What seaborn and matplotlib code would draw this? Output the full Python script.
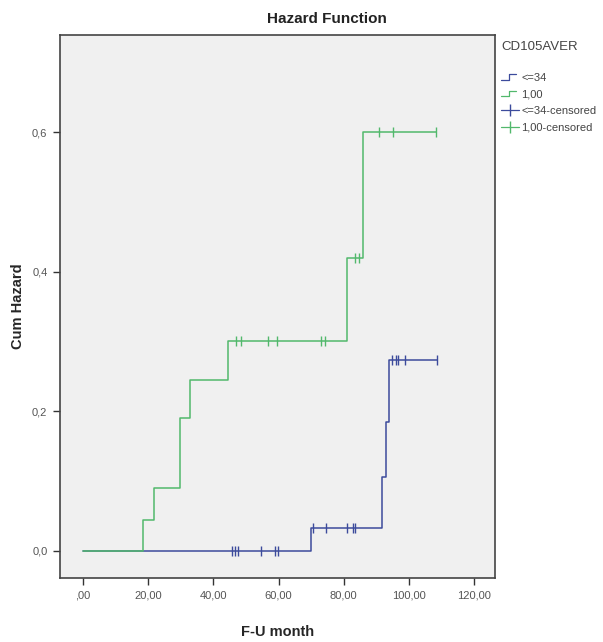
import numpy as np
import pandas as pd
import matplotlib
matplotlib.use("Agg")
import matplotlib.pyplot as plt
from matplotlib.legend_handler import HandlerBase
from matplotlib.lines import Line2D
import seaborn as sns

# ---- data ----
green_times = [0.0, 18.5, 21.9, 29.8, 32.8, 44.5, 80.9, 85.8, 108.3]
green_haz = [0.0, 0.044, 0.090, 0.190, 0.245, 0.300, 0.420, 0.600, 0.600]
green_cens_t = [47.1, 48.6, 56.9, 59.4, 72.9, 74.2, 83.4, 84.7, 90.8, 95.1, 108.3]
green_cens_h = [0.300, 0.300, 0.300, 0.300, 0.300, 0.300, 0.420, 0.420, 0.600, 0.600, 0.600]

blue_times = [0.0, 70.1, 91.6, 93.0, 94.0, 108.5]
blue_haz = [0.0, 0.033, 0.106, 0.185, 0.273, 0.273]
blue_cens_t = [45.6, 46.6, 47.6, 54.6, 58.9, 59.8, 70.6, 74.5, 81.0, 82.8, 83.4, 94.7, 96.0, 96.6, 98.8, 108.5]
blue_cens_h = [0.0, 0.0, 0.0, 0.0, 0.0, 0.0, 0.033, 0.033, 0.033, 0.033, 0.033, 0.273, 0.273, 0.273, 0.273, 0.273]

x_ticks = [0, 20, 40, 60, 80, 100, 120]
x_labels = [",00", "20,00", "40,00", "60,00", "80,00", "100,00", "120,00"]
y_ticks = [0.0, 0.2, 0.4, 0.6]
y_labels = ["0,0", "0,2", "0,4", "0,6"]
group_names = ["<=34", "1,00"]

BLUE = "#3c4b9c"
GREEN = "#52b86c"

sns.set_theme(style="ticks")
plt.rcParams["font.family"] = ["Liberation Sans", "DejaVu Sans"]

fig = plt.figure(figsize=(6.03, 6.42), dpi=100)
ax = fig.add_axes([0.0995, 0.0997, 0.7215, 0.8458])
ax.set_facecolor("#f0f0f0")

blue_df = pd.DataFrame({"t": blue_times, "h": blue_haz})
green_df = pd.DataFrame({"t": green_times, "h": green_haz})
bc = pd.DataFrame({"t": blue_cens_t, "h": blue_cens_h})
gc = pd.DataFrame({"t": green_cens_t, "h": green_cens_h})

sns.lineplot(data=blue_df, x="t", y="h", ax=ax, color=BLUE, lw=1.1,
             drawstyle="steps-post", estimator=None, sort=False)
sns.lineplot(data=green_df, x="t", y="h", ax=ax, color=GREEN, lw=1.1,
             drawstyle="steps-post", estimator=None, sort=False)
ax.scatter(bc["t"], bc["h"], marker="|", s=45, color=BLUE, linewidths=1.0, zorder=3)
ax.scatter(gc["t"], gc["h"], marker="|", s=45, color=GREEN, linewidths=1.0, zorder=3)

ax.set_xlim(-7.0, 126.4)
ax.set_ylim(-0.039, 0.739)
ax.set_xticks(x_ticks)
ax.set_xticklabels(x_labels)
ax.set_yticks(y_ticks)
ax.set_yticklabels(y_labels)
ax.tick_params(axis="both", direction="out", length=5, width=1, color="#333333",
               labelsize=8, labelcolor="#555555", pad=4)
for s in ax.spines.values():
    s.set_color("#444444")
    s.set_linewidth(1.2)

ax.set_xlabel("F-U month", fontsize=10.5, fontweight="bold", labelpad=18)
ax.set_ylabel("Cum Hazard", fontsize=10.5, fontweight="bold", labelpad=5)
fig.text(0.543, 0.970, "Hazard Function", ha="center", va="center",
         fontsize=11, fontweight="bold", color="#222222")


class StepHandler(HandlerBase):
    def create_artists(self, legend, orig_handle, xd, yd, width, height, fontsize, trans):
        w, h = width, height
        xs = [-xd, -xd + 0.45 * w, -xd + 0.45 * w, -xd + 0.8 * w]
        ys = [-yd + 0.15 * h, -yd + 0.15 * h, -yd + 0.85 * h, -yd + 0.85 * h]
        ln = Line2D(xs, ys, color=orig_handle.get_color(), lw=0.9, transform=trans)
        return [ln]


class CensHandler(HandlerBase):
    def create_artists(self, legend, orig_handle, xd, yd, width, height, fontsize, trans):
        w, h = width, height
        ln = Line2D([-xd, -xd + w], [-yd + 0.5 * h] * 2, color=orig_handle.get_color(),
                    lw=0.9, transform=trans)
        mk = Line2D([-xd + 0.5 * w], [-yd + 0.5 * h], color=orig_handle.get_color(),
                    marker="|", markersize=8, lw=0, transform=trans)
        return [ln, mk]


class StepLine(Line2D):
    pass


class CensLine(Line2D):
    pass


handles = [StepLine([], [], color=BLUE), StepLine([], [], color=GREEN),
           CensLine([], [], color=BLUE), CensLine([], [], color=GREEN)]
labels = [group_names[0], group_names[1], group_names[0] + "-censored", group_names[1] + "-censored"]
leg = fig.legend(handles, labels, loc="upper left", bbox_to_anchor=(0.815, 0.951),
                 title="CD105AVER", frameon=False, fontsize=8, title_fontsize=9.5,
                 handlelength=1.6, handletextpad=0.2, labelspacing=0.6,
                 handler_map={StepLine: StepHandler(), CensLine: CensHandler()})
leg._legend_box.align = "left"
leg._legend_box.sep = 14
for t in leg.get_texts():
    t.set_color("#444444")
leg.get_title().set_color("#444444")

fig.savefig("out.png", dpi=100, facecolor="white")
